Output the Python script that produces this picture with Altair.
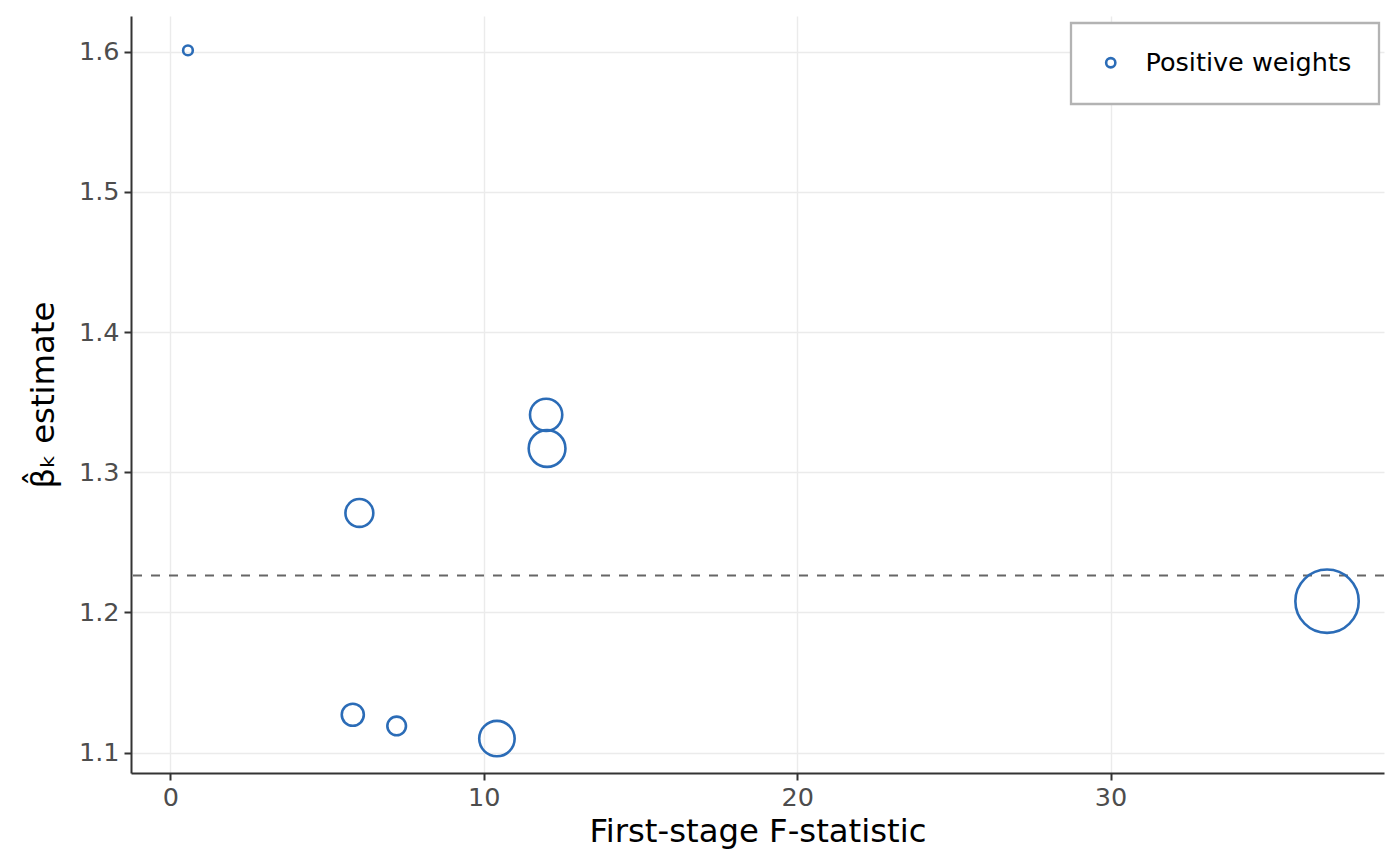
import altair as alt
import pandas as pd

# Data
f_stat = [0.56, 11.99, 12.02, 6.03, 5.82, 7.22, 10.42, 36.91]
beta_k = [1.601, 1.341, 1.317, 1.271, 1.127, 1.119, 1.110, 1.208]
weight = [0.010, 0.111, 0.144, 0.083, 0.052, 0.037, 0.134, 0.428]
sign = ["Positive weights"] * 8
overall_estimate = [1.2264]

x_ticks = [0, 10, 20, 30]
y_ticks = [1.1, 1.2, 1.3, 1.4, 1.5, 1.6]

df = pd.DataFrame({"f": f_stat, "beta": beta_k, "w": weight, "sign": sign})
df_line = pd.DataFrame({"est": overall_estimate})


def expand(vals, frac=0.05):
    lo, hi = min(vals), max(vals)
    d = (hi - lo) * frac
    return [lo - d, hi + d]


x_dom = expand(f_stat)
y_dom = expand(beta_k)

FONT = "DejaVu Sans"
BLUE = "#2b6cb7"

x_enc = alt.X(
    "f:Q",
    title="First-stage F-statistic",
    scale=alt.Scale(domain=x_dom, nice=False, zero=False),
    axis=alt.Axis(values=x_ticks, format="d"),
)
y_enc = alt.Y(
    "beta:Q",
    title="β̂ₖ estimate",
    scale=alt.Scale(domain=y_dom, nice=False, zero=False),
    axis=alt.Axis(values=y_ticks, format=".1f"),
)

rule = (
    alt.Chart(df_line)
    .mark_rule(color="#666666", strokeWidth=2, strokeDash=[9, 9])
    .encode(y=alt.Y("est:Q", scale=alt.Scale(domain=y_dom, nice=False, zero=False)))
)

points = (
    alt.Chart(df)
    .mark_point(shape="circle", filled=False, strokeWidth=2.6, opacity=1)
    .encode(
        x=x_enc,
        y=y_enc,
        size=alt.Size("w:Q", scale=alt.Scale(domain=[0, 1], range=[0, 9382]), legend=None),
        color=alt.Color(
            "sign:N",
            scale=alt.Scale(domain=["Positive weights"], range=[BLUE]),
            legend=alt.Legend(
                title=None,
                orient="none",
                legendX=940,
                legendY=7,
                padding=27,
                strokeColor="#b3b3b3",
                fillColor="white",
                symbolType="circle",
                symbolSize=85,
                symbolStrokeWidth=2.6,
                symbolFillColor="transparent",
                labelOffset=22,
                labelLimit=0,
                labelFont=FONT,
                labelFontSize=25.5,
                labelColor="black",
            ),
        ),
    )
)

chart = (
    alt.layer(rule, points)
    .properties(
        width=1253,
        height=757,
        autosize=alt.AutoSizeParams(type="none"),
        padding={"left": 123, "top": 8, "right": 8, "bottom": 80},
        background="white",
    )
    .configure_view(stroke=None)
    .configure_axis(
        domainColor="#333333",
        domainWidth=2,
        tickColor="#333333",
        tickWidth=2,
        tickSize=7,
        labelColor="#4d4d4d",
        labelFont=FONT,
        labelFontSize=25.5,
        labelPadding=5,
        titleFont=FONT,
        titleFontSize=32.3,
        titleFontWeight="normal",
        titleColor="black",
        gridColor="#ebebeb",
        gridWidth=1.4,
    )
    .configure_axisX(titlePadding=5)
    .configure_axisY(titlePadding=18)
    .configure_legend(strokeWidth=2.3)
)

chart.save("out.html", embed_options={"renderer": "svg", "actions": False})
